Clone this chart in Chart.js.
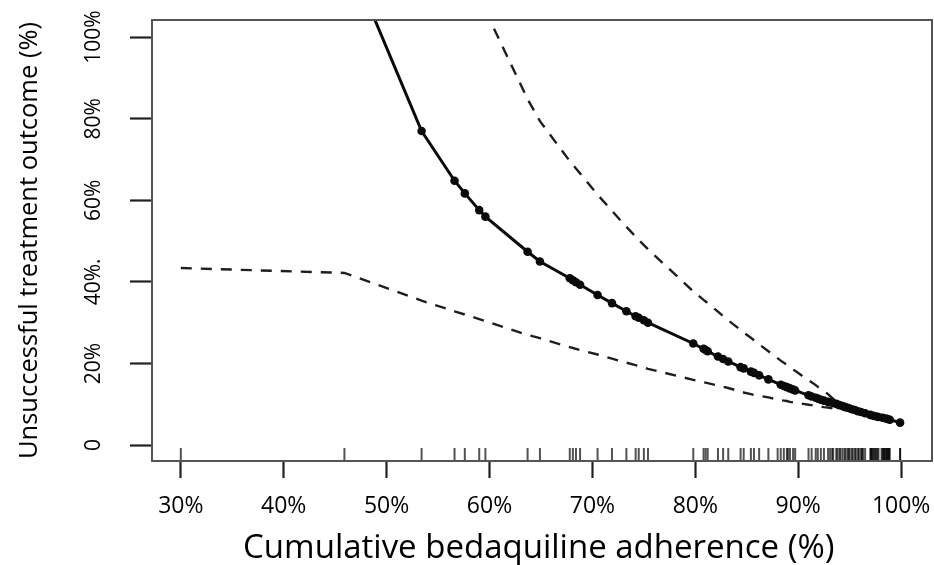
<!DOCTYPE html>
<html>
<head>
<meta charset="utf-8">
<script src="https://cdn.jsdelivr.net/npm/chart.js@4.4.1/dist/chart.umd.min.js"></script>
<style>
  html, body { margin: 0; padding: 0; background: #fff; }
  #wrap { width: 934px; height: 565px; }
</style>
</head>
<body>
<div id="wrap"><canvas id="chart" width="934" height="565"></canvas></div>
<script>
// adherence (%) of each distinct value on the fitted curve
const adherence = [30, 45.9, 53.4, 56.6, 57.6, 59.0, 59.6, 63.7, 64.9, 67.8, 68.1, 68.4, 68.8, 70.5, 71.9, 73.3, 74.2, 74.5, 75.0, 75.4,
  79.8, 80.8, 81.0, 81.2, 82.2, 82.7, 83.2, 84.4, 84.7, 85.4, 85.7, 86.2, 87.1, 88.3, 88.6, 88.9, 89.2, 89.5, 89.7,
  91.0, 91.3, 91.7, 91.9, 92.2, 92.5, 92.9, 93.1, 93.4, 93.7, 94.0, 94.3, 94.6, 94.9, 95.2, 95.5, 95.8, 96.1, 96.5,
  97.0, 97.3, 97.6, 97.8, 98.2, 98.5, 98.7, 98.9, 99.9];

// predicted unsuccessful outcome (%)
const predicted = [null, 122, 77.0, 64.8, 61.7, 57.6, 56.0, 47.4, 45.0, 40.9, 40.4, 39.9, 39.3, 36.8, 34.8, 32.8, 31.6, 31.2, 30.6, 30.0,
  24.9, 23.6, 23.3, 23.0, 21.7, 21.1, 20.5, 19.1, 18.8, 18.0, 17.7, 17.1, 16.1, 14.8, 14.5, 14.2, 13.9, 13.6, 13.4,
  12.2, 11.9, 11.6, 11.4, 11.1, 10.9, 10.6, 10.5, 10.3, 10.1, 9.8, 9.6, 9.3, 9.1, 8.8, 8.6, 8.3, 8.1, 7.8,
  7.4, 7.2, 7.0, 6.9, 6.7, 6.5, 6.4, 6.2, 5.5];

// confidence band
const lowerCI = [43.4, 42.2, 35.4, 32.8, 32.0, 30.9, 30.4, 27.0, 26.2, 24.0, 23.8, 23.6, 23.3, 22.2, 21.2, 20.2, 19.6, 19.4, 19.0, 18.7,
  16.0, 15.4, 15.3, 15.2, 14.6, 14.3, 14.0, 13.1, 12.9, 12.5, 12.3, 12.1, 11.7, 11.0, 10.9, 10.8, 10.6, 10.5, 10.4,
  9.9, 9.8, 9.6, 9.5, 9.4, 9.3, 9.2, 9.1, 9.1, 9.0, 8.9, 8.8, 8.6, 8.5, 8.3, 8.1, 7.9, 7.8, 7.5,
  7.2, 7.0, 6.8, 6.7, 6.5, 6.4, 6.3, 6.1, 5.5];

const upperCI = [null, null, null, null, null, null, 106.5, 84.8, 79.4, 69.6, 68.7, 67.8, 66.6, 61.4, 57.4, 53.5, 51.1, 50.3, 49.0, 48.0,
  37.7, 35.6, 35.2, 34.8, 32.7, 31.6, 30.6, 28.2, 27.6, 26.3, 25.7, 24.7, 23.0, 20.7, 20.2, 19.6, 19.1, 18.5, 18.2,
  15.9, 15.4, 14.7, 14.3, 13.8, 13.2, 12.5, 12.0, 11.3, 10.9, 10.5, 10.2, 9.9, 9.6, 9.3, 9.0, 8.7, 8.4, 8.1,
  7.6, 7.4, 7.2, 7.0, 6.8, 6.6, 6.5, 6.3, 5.5];

// rug of individual patients' adherence
const rugValues = [30, 45.9, 53.4, 56.6, 57.6, 59.0, 59.6, 63.7, 64.9, 67.8, 68.1, 68.4, 68.8, 70.5, 71.9, 73.3, 74.2, 74.5, 75.0, 75.4,
  79.8, 80.8, 81.0, 81.2, 82.2, 82.7, 83.2, 84.4, 84.7, 85.4, 85.7, 86.2, 87.1, 88.3, 88.6, 88.9, 89.2, 89.5, 89.7,
  91.0, 91.3, 91.7, 91.9, 92.2, 92.5, 92.9, 93.1, 93.4, 93.7, 94.0, 94.3, 94.6, 94.9, 95.2, 95.5, 95.8, 96.1, 96.5,
  97.0, 97.3, 97.6, 97.8, 98.2, 98.5, 98.7, 98.9, 99.9,
  88.0, 89.0, 93.3, 93.8, 94.1, 94.5, 94.8, 95.0, 95.3, 95.6, 95.9, 96.2, 96.3,
  97.1, 97.2, 97.5, 97.7, 97.1, 97.4, 98.1, 98.3, 98.4, 98.6, 98.8, 98.3, 98.6, 98.8, 99.9];

const xTicks = [30, 40, 50, 60, 70, 80, 90, 100];
const xTickLabels = ['30%', '40%', '50%', '60%', '70%', '80%', '90%', '100%'];
const yTicks = [0, 20, 40, 60, 80, 100];
const yTickLabels = ['0', '20%', '40%.', '60%', '80%', '100%'];

// plot region limits (R style 4% extension)
const xLimits = [27.2, 103.0];
const yLimits = [-3.9, 104.2];
const frameRight = 932;

const FONT = "'Open Sans', 'DejaVu Sans', sans-serif";

const pts = (ys) => adherence.map((x, i) => ({ x: x, y: ys[i] }));

// plot frame, placed through the scales at the region limits
const boxPlugin = {
    id: 'box',
    afterDatasetsDraw(chart) {
        const { ctx, scales: { x, y } } = chart;
        const l = x.getPixelForValue(xLimits[0]);
        const r = x.getPixelForValue(xLimits[1]);
        const t = y.getPixelForValue(yLimits[1]);
        const b = y.getPixelForValue(yLimits[0]);
        ctx.save();
        ctx.strokeStyle = '#555';
        ctx.lineWidth = 2;
        ctx.strokeRect(l, t, r - l, b - t);
        ctx.restore();
    }
};

function noPad(s) {
    s.paddingLeft = 0;
    s.paddingRight = 0;
    s.paddingTop = 0;
    s.paddingBottom = 0;
}

const chart = new Chart(document.getElementById('chart').getContext('2d'), {
    type: 'line',
    data: {
        datasets: [{
            label: 'Predicted',
            data: pts(predicted),
            borderColor: '#0a0a0a',
            borderWidth: 3,
            pointRadius: 4.3,
            pointBackgroundColor: '#0a0a0a',
            pointBorderWidth: 0,
            tension: 0,
            clip: 0
        }, {
            label: 'Lower',
            data: pts(lowerCI),
            borderColor: '#1e1e1e',
            borderWidth: 2.4,
            borderDash: [11, 9],
            pointRadius: 0,
            tension: 0,
            clip: 0
        }, {
            label: 'Upper',
            data: pts(upperCI),
            borderColor: '#1e1e1e',
            borderWidth: 2.4,
            borderDash: [11, 9],
            pointRadius: 0,
            tension: 0,
            clip: 0
        }, {
            label: 'Rug',
            data: rugValues.map(v => ({ x: v, y: -2.33 })),
            showLine: false,
            pointStyle: 'line',
            rotation: 90,
            pointRadius: 6.5,
            pointBorderWidth: 2,
            pointBorderColor: 'rgba(0, 0, 0, 0.68)',
            clip: 0
        }]
    },
    options: {
        responsive: false,
        animation: false,
        devicePixelRatio: 1,
        layout: { padding: { top: 20, right: 2, left: 0, bottom: 0 } },
        plugins: {
            legend: { display: false },
            tooltip: { enabled: false }
        },
        scales: {
            x: {
                type: 'linear',
                min: xLimits[0],
                max: xLimits[1],
                afterFit: (s) => { s.height = 104; noPad(s); },
                afterBuildTicks: (s) => { s.ticks = xTicks.map(v => ({ value: v })); },
                border: { display: false },
                grid: {
                    drawOnChartArea: false,
                    tickLength: 17,
                    tickWidth: 2.2,
                    tickColor: '#222'
                },
                ticks: {
                    autoSkip: false,
                    maxRotation: 0,
                    padding: 15,
                    color: '#000',
                    font: { family: FONT, size: 23 },
                    callback: (v) => xTickLabels[xTicks.indexOf(v)]
                },
                title: {
                    display: true,
                    text: 'Cumulative bedaquiline adherence (%)',
                    color: '#000',
                    font: { family: FONT, size: 33, lineHeight: 1 },
                    padding: { top: 0, bottom: 0 }
                }
            },
            y: {
                type: 'linear',
                min: yLimits[0],
                max: yLimits[1],
                afterFit: (s) => { s.width = 152; noPad(s); },
                afterBuildTicks: (s) => { s.ticks = yTicks.map(v => ({ value: v })); },
                border: { display: false },
                grid: {
                    drawOnChartArea: false,
                    tickLength: 22,
                    tickWidth: 2.2,
                    tickColor: '#222'
                },
                ticks: {
                    autoSkip: false,
                    minRotation: 90,
                    maxRotation: 90,
                    crossAlign: 'center',
                    padding: 9,
                    color: '#000',
                    font: { family: FONT, size: 21 },
                    callback: (v) => yTickLabels[yTicks.indexOf(v)]
                },
                title: {
                    display: true,
                    text: 'Unsuccessful treatment outcome (%)',
                    color: '#000',
                    font: { family: FONT, size: 25.5, lineHeight: 1 },
                    padding: { top: 17, bottom: 0 }
                }
            }
        }
    },
    plugins: [boxPlugin]
});

// Chart.js keeps a few px at the right for the last label; stretch the x range so the
// frame (xLimits[1]) still lands at frameRight
const area = chart.chartArea;
const pxPerUnit = (frameRight - area.left) / (xLimits[1] - xLimits[0]);
chart.options.scales.x.max = xLimits[0] + (area.right - area.left) / pxPerUnit;
chart.update();
</script>
</body>
</html>
